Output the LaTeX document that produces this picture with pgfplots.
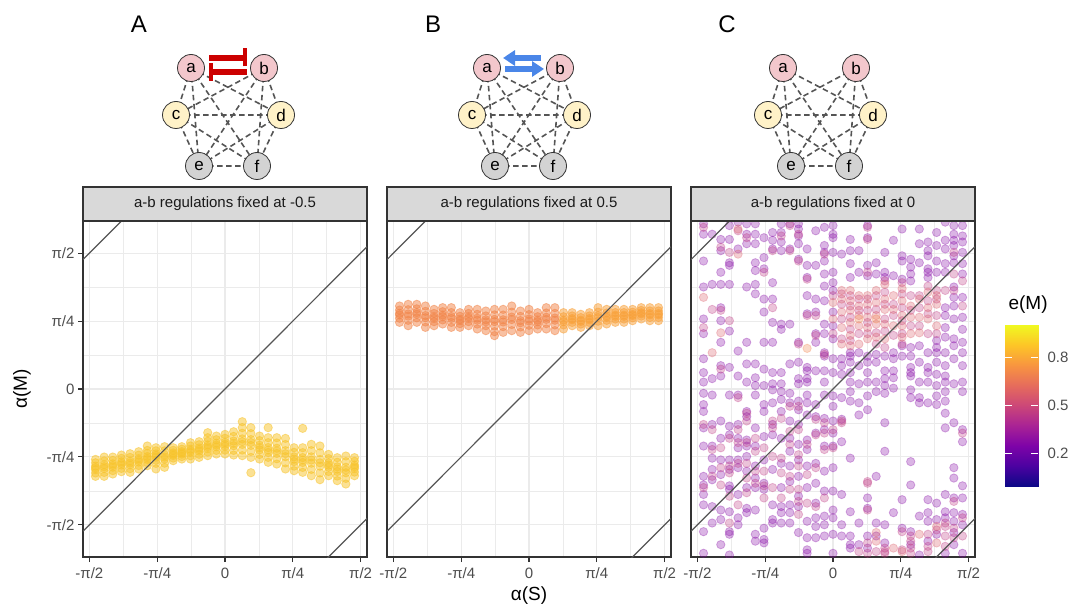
\documentclass[border=0pt]{standalone}
\usepackage{fontspec}
\setmainfont{Liberation Sans}
\usepackage{pgfplots}
\pgfplotsset{compat=1.18}
\usetikzlibrary{arrows.meta}
\definecolor{gridc}{HTML}{EBEBEB}
\definecolor{axc}{HTML}{333333}
\definecolor{tickc}{HTML}{4D4D4D}
\definecolor{stripc}{HTML}{D9D9D9}
\definecolor{stript}{HTML}{1A1A1A}
\definecolor{linec}{HTML}{555555}
\definecolor{cA}{RGB}{247,195,42}
\definecolor{cBl}{RGB}{241,132,72}
\definecolor{cBr}{RGB}{248,160,56}
\definecolor{cCp}{RGB}{133,8,165}
\definecolor{cCm}{RGB}{190,56,130}
\definecolor{cCk}{RGB}{219,92,104}
\definecolor{cCo}{RGB}{240,131,75}
\definecolor{nodeab}{RGB}{243,199,204}
\definecolor{nodecd}{RGB}{255,242,200}
\definecolor{nodeef}{RGB}{211,211,211}
\definecolor{edgec}{HTML}{555555}
\definecolor{redc}{RGB}{204,0,0}
\definecolor{bluec}{RGB}{74,134,232}
\pgfplotsset{colormap={plasma}{rgb255=(13,8,135) rgb255=(76,2,161) rgb255=(126,3,168) rgb255=(169,35,149) rgb255=(204,71,120) rgb255=(230,108,92) rgb255=(248,149,64) rgb255=(253,197,39) rgb255=(240,249,33)}}
\pgfplotsset{
 panel/.style={scale only axis, width=284pt, height=336pt, anchor=south west,
   xmin=-1.645,xmax=1.645,ymin=-1.943,ymax=1.943,
   xtick={-1.5708,-0.7854,0,0.7854,1.5708},
   xticklabels={-π/2,-π/4,0,π/4,π/2},
   ytick={-1.5708,-0.7854,0,0.7854,1.5708},
   minor xtick={-1.1781,-0.3927,0.3927,1.1781},
   minor ytick={-1.1781,-0.3927,0.3927,1.1781},
   grid=both,
   major grid style={draw=gridc, line width=1.1pt},
   minor grid style={draw=gridc, line width=0.55pt},
   axis line style={draw=axc, line width=1.1pt},
   major tick style={draw=axc, line width=1.1pt},
   major tick length=5pt, minor tick length=0pt,
   tick align=outside, tick pos=left,
   ticklabel style={font=\fontsize{15}{18}\selectfont, text=tickc},
   xticklabel style={yshift=-2pt},
   clip marker paths=true,
 },
 pts/.style={only marks, mark=*, mark size=4.2pt, color=#1,
   mark options={fill opacity=0.30, draw opacity=0.30, line width=0.8pt}},
 ptsd/.style={only marks, mark=*, mark size=4.2pt, color=#1,
   mark options={fill opacity=0.5, draw opacity=0.5, line width=0.8pt}},
 abl/.style={color=linec, line width=1.2pt},
}
\newcommand{\net}[1]{%
\begin{scope}[xshift=#1pt]
 \draw[edgec, line width=1.6pt, dash pattern=on 5.5pt off 3.5pt]
   (191,538)--(176,491) (191,538)--(281,491) (191,538)--(199,440) (191,538)--(257,440)
   (264,538)--(176,491) (264,538)--(281,491) (264,538)--(199,440) (264,538)--(257,440)
   (176,491)--(281,491) (176,491)--(199,440) (176,491)--(257,440)
   (281,491)--(199,440) (281,491)--(257,440) (199,440)--(257,440);
 \tikzset{nd/.style={circle, draw=axc, line width=0.8pt, minimum size=27pt, inner sep=0pt, font=\fontsize{17}{20}\selectfont}}
 \node[nd, fill=nodeab] at (191,538) {a};
 \node[nd, fill=nodeab] at (264,538) {b};
 \node[nd, fill=nodecd] at (176,491) {c};
 \node[nd, fill=nodecd] at (281,491) {d};
 \node[nd, fill=nodeef] at (199,440) {e};
 \node[nd, fill=nodeef] at (257,440) {f};
\end{scope}}
\begin{document}
\begin{tikzpicture}[x=1pt,y=1pt]
\useasboundingbox (0,0) rectangle (1073,606);
%% ---------------- Panel A
\begin{axis}[panel, at={(83pt,49pt)},
  yticklabels={-π/2,-π/4,0,π/4,π/2}]
\addplot[ptsd=cA] coordinates {
(-1.5,-0.814)(-1.5,-0.853)(-1.5,-0.892)(-1.5,-0.912)(-1.5,-0.932)(-1.5,-0.971)(-1.5,-1.010)
(-1.4,-0.787)(-1.4,-0.832)(-1.4,-0.876)(-1.4,-0.899)(-1.4,-0.921)(-1.4,-0.965)(-1.4,-1.010)
(-1.3,-0.787)(-1.3,-0.826)(-1.3,-0.865)(-1.3,-0.885)(-1.3,-0.905)(-1.3,-0.944)(-1.3,-0.983)
(-1.2,-0.764)(-1.2,-0.802)(-1.2,-0.841)(-1.2,-0.860)(-1.2,-0.879)(-1.2,-0.918)(-1.2,-0.956)
(-1.1,-0.748)(-1.1,-0.791)(-1.1,-0.834)(-1.1,-0.856)(-1.1,-0.878)(-1.1,-0.921)(-1.1,-0.964)
(-1.0,-0.725)(-1.0,-0.765)(-1.0,-0.805)(-1.0,-0.825)(-1.0,-0.845)(-1.0,-0.885)(-1.0,-0.925)
(-0.9,-0.710)(-0.9,-0.745)(-0.9,-0.781)(-0.9,-0.799)(-0.9,-0.816)(-0.9,-0.852)(-0.9,-0.887)(-0.9,-0.659)
(-0.8,-0.679)(-0.8,-0.715)(-0.8,-0.751)(-0.8,-0.770)(-0.8,-0.788)(-0.8,-0.824)(-0.8,-0.860)(-0.8,-0.925)
(-0.7,-0.667)(-0.7,-0.715)(-0.7,-0.763)(-0.7,-0.787)(-0.7,-0.810)(-0.7,-0.858)(-0.7,-0.906)
(-0.6,-0.679)(-0.6,-0.709)(-0.6,-0.739)(-0.6,-0.754)(-0.6,-0.769)(-0.6,-0.799)(-0.6,-0.829)
(-0.5,-0.667)(-0.5,-0.696)(-0.5,-0.724)(-0.5,-0.739)(-0.5,-0.753)(-0.5,-0.781)(-0.5,-0.810)
(-0.4,-0.621)(-0.4,-0.659)(-0.4,-0.697)(-0.4,-0.716)(-0.4,-0.734)(-0.4,-0.772)(-0.4,-0.810)
(-0.3,-0.609)(-0.3,-0.645)(-0.3,-0.682)(-0.3,-0.700)(-0.3,-0.718)(-0.3,-0.755)(-0.3,-0.791)
(-0.2,-0.563)(-0.2,-0.605)(-0.2,-0.646)(-0.2,-0.667)(-0.2,-0.688)(-0.2,-0.729)(-0.2,-0.771)(-0.2,-0.505)
(-0.1,-0.544)(-0.1,-0.586)(-0.1,-0.627)(-0.1,-0.648)(-0.1,-0.669)(-0.1,-0.710)(-0.1,-0.752)
(0,-0.525)(0,-0.570)(0,-0.616)(0,-0.639)(0,-0.661)(0,-0.707)(0,-0.752)
(0.1,-0.494)(0.1,-0.548)(0.1,-0.602)(0.1,-0.629)(0.1,-0.656)(0.1,-0.710)(0.1,-0.764)
(0.2,-0.447)(0.2,-0.512)(0.2,-0.577)(0.2,-0.609)(0.2,-0.641)(0.2,-0.706)(0.2,-0.771)(0.2,-0.378)
(0.3,-0.447)(0.3,-0.516)(0.3,-0.585)(0.3,-0.619)(0.3,-0.653)(0.3,-0.722)(0.3,-0.791)(0.3,-0.968)
(0.4,-0.544)(0.4,-0.597)(0.4,-0.650)(0.4,-0.677)(0.4,-0.704)(0.4,-0.757)(0.4,-0.810)
(0.5,-0.563)(0.5,-0.620)(0.5,-0.677)(0.5,-0.706)(0.5,-0.734)(0.5,-0.791)(0.5,-0.848)(0.5,-0.447)
(0.6,-0.563)(0.6,-0.624)(0.6,-0.685)(0.6,-0.716)(0.6,-0.746)(0.6,-0.807)(0.6,-0.868)
(0.7,-0.571)(0.7,-0.642)(0.7,-0.713)(0.7,-0.748)(0.7,-0.783)(0.7,-0.854)(0.7,-0.925)
(0.8,-0.679)(0.8,-0.732)(0.8,-0.785)(0.8,-0.812)(0.8,-0.839)(0.8,-0.892)(0.8,-0.945)
(0.9,-0.679)(0.9,-0.736)(0.9,-0.793)(0.9,-0.822)(0.9,-0.850)(0.9,-0.907)(0.9,-0.964)(0.9,-0.455)
(1.0,-0.640)(1.0,-0.713)(1.0,-0.785)(1.0,-0.822)(1.0,-0.858)(1.0,-0.930)(1.0,-1.003)
(1.1,-0.659)(1.1,-0.737)(1.1,-0.815)(1.1,-0.854)(1.1,-0.893)(1.1,-0.971)(1.1,-1.049)
(1.2,-0.756)(1.2,-0.805)(1.2,-0.855)(1.2,-0.880)(1.2,-0.904)(1.2,-0.954)(1.2,-1.003)
(1.3,-0.794)(1.3,-0.847)(1.3,-0.900)(1.3,-0.927)(1.3,-0.954)(1.3,-1.007)(1.3,-1.060)
(1.4,-0.775)(1.4,-0.840)(1.4,-0.905)(1.4,-0.937)(1.4,-0.969)(1.4,-1.034)(1.4,-1.099)
(1.5,-0.794)(1.5,-0.836)(1.5,-0.878)(1.5,-0.899)(1.5,-0.919)(1.5,-0.961)(1.5,-1.003)
};
\addplot[abl] coordinates {(-1.645,-1.645)(1.645,1.645)};
\addplot[abl] coordinates {(-1.645,1.4966)(-0.5,2.6416)};
\addplot[abl] coordinates {(0.5,-2.6416)(1.645,-1.4966)};
\end{axis}
%% ---------------- Panel B
\begin{axis}[panel, at={(387pt,49pt)}, yticklabels={}, ytick style={draw=none}]
\addplot[ptsd=cBl] coordinates {
(-1.5,0.960)(-1.5,0.913)(-1.5,0.875)(-1.5,0.856)(-1.5,0.818)(-1.5,0.771)
(-1.4,0.979)(-1.4,0.917)(-1.4,0.868)(-1.4,0.843)(-1.4,0.794)(-1.4,0.732)
(-1.3,0.979)(-1.3,0.927)(-1.3,0.885)(-1.3,0.865)(-1.3,0.823)(-1.3,0.771)
(-1.2,0.960)(-1.2,0.898)(-1.2,0.849)(-1.2,0.824)(-1.2,0.775)(-1.2,0.713)
(-1.1,0.921)(-1.1,0.874)(-1.1,0.836)(-1.1,0.817)(-1.1,0.779)(-1.1,0.732)
(-1.0,0.941)(-1.0,0.894)(-1.0,0.856)(-1.0,0.837)(-1.0,0.799)(-1.0,0.752)
(-0.9,0.941)(-0.9,0.884)(-0.9,0.838)(-0.9,0.816)(-0.9,0.770)(-0.9,0.713)
(-0.8,0.883)(-0.8,0.841)(-0.8,0.807)(-0.8,0.790)(-0.8,0.756)(-0.8,0.713)
(-0.7,0.921)(-0.7,0.874)(-0.7,0.836)(-0.7,0.817)(-0.7,0.779)(-0.7,0.732)
(-0.6,0.921)(-0.6,0.864)(-0.6,0.819)(-0.6,0.796)(-0.6,0.751)(-0.6,0.694)
(-0.5,0.902)(-0.5,0.845)(-0.5,0.800)(-0.5,0.777)(-0.5,0.732)(-0.5,0.675)
(-0.4,0.921)(-0.4,0.857)(-0.4,0.805)(-0.4,0.779)(-0.4,0.728)(-0.4,0.663)(-0.4,0.617)
(-0.3,0.921)(-0.3,0.855)(-0.3,0.801)(-0.3,0.775)(-0.3,0.721)(-0.3,0.655)
(-0.2,0.960)(-0.2,0.889)(-0.2,0.832)(-0.2,0.803)(-0.2,0.746)(-0.2,0.675)
(-0.1,0.902)(-0.1,0.840)(-0.1,0.791)(-0.1,0.766)(-0.1,0.717)(-0.1,0.655)
(0,0.921)(0,0.860)(0,0.810)(0,0.786)(0,0.737)(0,0.675)
(0.1,0.883)(0.1,0.836)(0.1,0.798)(0.1,0.779)(0.1,0.741)(0.1,0.694)
(0.2,0.941)(0.2,0.879)(0.2,0.830)(0.2,0.805)(0.2,0.756)(0.2,0.694)
(0.3,0.941)(0.3,0.875)(0.3,0.821)(0.3,0.795)(0.3,0.741)(0.3,0.675)
};
\addplot[ptsd=cBr] coordinates {
(0.4,0.883)(0.4,0.836)(0.4,0.798)(0.4,0.779)(0.4,0.741)(0.4,0.694)
(0.5,0.883)(0.5,0.845)(0.5,0.815)(0.5,0.800)(0.5,0.770)(0.5,0.732)
(0.6,0.864)(0.6,0.826)(0.6,0.796)(0.6,0.781)(0.6,0.751)(0.6,0.713)
(0.7,0.883)(0.7,0.845)(0.7,0.815)(0.7,0.800)(0.7,0.770)(0.7,0.732)
(0.8,0.941)(0.8,0.889)(0.8,0.847)(0.8,0.826)(0.8,0.784)(0.8,0.732)
(0.9,0.921)(0.9,0.879)(0.9,0.845)(0.9,0.828)(0.9,0.794)(0.9,0.752)
(1.0,0.921)(1.0,0.884)(1.0,0.854)(1.0,0.839)(1.0,0.809)(1.0,0.771)
(1.1,0.921)(1.1,0.884)(1.1,0.854)(1.1,0.839)(1.1,0.809)(1.1,0.771)
(1.2,0.921)(1.2,0.888)(1.2,0.862)(1.2,0.849)(1.2,0.823)(1.2,0.790)
(1.3,0.941)(1.3,0.908)(1.3,0.882)(1.3,0.869)(1.3,0.843)(1.3,0.810)
(1.4,0.941)(1.4,0.903)(1.4,0.873)(1.4,0.858)(1.4,0.828)(1.4,0.790)
(1.5,0.941)(1.5,0.903)(1.5,0.873)(1.5,0.858)(1.5,0.828)(1.5,0.790)
};
\addplot[abl] coordinates {(-1.645,-1.645)(1.645,1.645)};
\addplot[abl] coordinates {(-1.645,1.4966)(-0.5,2.6416)};
\addplot[abl] coordinates {(0.5,-2.6416)(1.645,-1.4966)};
\end{axis}
%% ---------------- Panel C
\begin{axis}[panel, at={(691pt,49pt)}, yticklabels={}, ytick style={draw=none}]
\addplot[pts=cCp] coordinates {
(-1.5,1.91)(-1.5,1.79)(-1.5,1.48)(-1.5,1.18)(-1.5,0.81)(-1.5,0.64)(-1.5,0.35)(-1.5,0.19)(-1.5,0.08)
(-1.4,1.79)(-1.4,1.21)(-1.4,0.12)
(-1.3,1.73)(-1.3,1.60)(-1.3,1.35)(-1.3,1.21)(-1.3,0.94)(-1.3,0.79)(-1.3,0.54)(-1.3,0.27)(-1.3,0.15)
(-1.2,1.89)(-1.2,1.73)(-1.2,1.46)(-1.2,1.43)(-1.2,1.21)(-1.2,0.67)(-1.2,0.25)
(-1.1,1.93)(-1.1,1.62)(-1.1,0.44)(-1.1,0.15)
(-1.0,1.91)(-1.0,1.79)(-1.0,1.68)(-1.0,1.18)(-1.0,0.54)(-1.0,0.29)(-1.0,0.08)
(-0.9,1.91)(-0.9,1.79)(-0.9,1.68)(-0.9,1.46)(-0.9,1.37)(-0.9,1.21)(-0.9,1.10)(-0.9,0.29)(-0.9,0.13)(-0.9,0.04)
(-0.8,1.75)(-0.8,1.52)(-0.8,1.39)(-0.8,1.04)(-0.8,0.89)(-0.8,0.54)(-0.8,0.23)(-0.8,0.04)
(-0.7,1.81)(-0.7,1.72)(-0.7,1.62)(-0.7,1.23)(-0.7,1.04)(-0.7,0.77)(-0.7,0.54)(-0.7,0.19)(-0.7,0.06)
(-0.6,1.91)(-0.6,1.81)(-0.6,1.70)(-0.6,1.60)(-0.6,0.75)(-0.6,0.69)(-0.6,0.19)(-0.6,0.06)
(-0.5,1.91)(-0.5,1.62)(-0.5,0.75)(-0.5,0.29)
(-0.4,1.91)(-0.4,1.85)(-0.4,1.77)(-0.4,1.68)(-0.4,1.50)(-0.4,0.54)(-0.4,0.31)(-0.4,0.12)(-0.4,0.06)
(-0.3,1.62)(-0.3,1.43)(-0.3,1.29)(-0.3,1.08)(-0.3,0.87)(-0.3,0.25)(-0.3,0.21)(-0.3,0.12)(-0.3,0.08)
(-0.2,1.83)(-0.2,1.43)(-0.2,1.04)(-0.2,0.89)(-0.2,0.64)(-0.2,0.54)(-0.2,0.21)
(-0.1,1.87)(-0.1,1.66)(-0.1,1.58)(-0.1,1.48)(-0.1,1.33)(-0.1,1.19)(-0.1,1.02)(-0.1,0.75)(-0.1,0.64)(-0.1,0.42)(-0.1,0.38)(-0.1,0.21)(-0.1,0.08)
(0,1.89)(0,1.79)(0,1.75)(0,1.58)(0,1.35)(0,1.23)(0,1.14)(0,0.89)(0,0.73)(0,0.58)(0,0.35)(0,0.19)
(0.1,1.56)(0.1,0.35)(0.1,0.27)(0.1,0.17)
(0.2,1.73)(0.2,1.60)(0.2,1.45)(0.2,1.29)(0.2,0.42)(0.2,0.38)(0.2,0.31)(0.2,0.19)(0.2,0.08)
(0.3,1.60)(0.3,1.35)(0.3,0.42)(0.3,0.27)(0.3,0.06)
(0.4,1.89)(0.4,1.75)(0.4,1.43)(0.4,1.31)(0.4,0.38)(0.4,0.31)(0.4,0.19)(0.4,0.08)
(0.5,1.46)(0.5,1.33)(0.5,0.40)(0.5,0.31)(0.5,0.08)
(0.6,1.58)(0.6,1.35)(0.6,1.29)(0.6,0.38)(0.6,0.21)(0.6,0.12)(0.6,0.04)
(0.7,1.72)(0.7,1.31)(0.7,0.42)(0.7,0.35)(0.7,0.21)(0.7,0.13)
(0.8,1.85)(0.8,1.54)(0.8,1.48)(0.8,1.27)(0.8,0.50)(0.8,0.38)
(0.9,1.50)(0.9,1.41)(0.9,1.33)(0.9,1.25)(0.9,0.48)(0.9,0.38)(0.9,0.25)(0.9,0.19)(0.9,0.15)
(1.0,1.85)(1.0,1.68)(1.0,1.46)(1.0,0.50)(1.0,0.31)(1.0,0.08)
(1.1,1.70)(1.1,1.60)(1.1,1.54)(1.1,1.39)(1.1,1.35)(1.1,1.29)(1.1,0.42)(1.1,0.25)(1.1,0.19)(1.1,0.08)
(1.2,1.81)(1.2,1.66)(1.2,1.48)(1.2,1.35)(1.2,0.56)(1.2,0.48)(1.2,0.42)(1.2,0.31)(1.2,0.17)(1.2,0.04)
(1.3,1.93)(1.3,1.72)(1.3,1.62)(1.3,1.45)(1.3,1.35)(1.3,0.94)(1.3,0.85)(1.3,0.71)(1.3,0.60)(1.3,0.42)(1.3,0.27)(1.3,0.15)(1.3,0.08)
(1.4,1.89)(1.4,1.79)(1.4,1.72)(1.4,1.66)(1.4,1.54)(1.4,1.46)(1.4,1.18)(1.4,1.06)(1.4,0.96)(1.4,0.81)(1.4,0.58)(1.4,0.50)(1.4,0.35)(1.4,0.06)
(1.5,1.89)(1.5,1.77)(1.5,1.70)(1.5,1.58)(1.5,1.45)(1.5,1.33)(1.5,1.06)(1.5,0.83)(1.5,0.69)(1.5,0.54)(1.5,0.42)(1.5,0.27)(1.5,0.08)
(-1.5,-0.05)(-1.5,-0.18)(-1.5,-0.26)(-1.5,-0.45)(-1.5,-0.66)(-1.5,-1.01)(-1.5,-1.11)(-1.5,-1.22)(-1.5,-1.34)(-1.5,-1.65)(-1.5,-1.90)
(-1.4,-0.07)(-1.4,-0.41)(-1.4,-0.66)(-1.4,-0.80)(-1.4,-0.93)(-1.4,-1.05)(-1.4,-1.36)(-1.4,-1.55)
(-1.3,-0.37)(-1.3,-0.57)(-1.3,-0.82)(-1.3,-0.99)(-1.3,-1.40)(-1.3,-1.51)(-1.3,-1.80)
(-1.2,-0.07)(-1.2,-0.43)(-1.2,-0.53)(-1.2,-0.82)(-1.2,-0.93)(-1.2,-1.12)(-1.2,-1.16)(-1.2,-1.42)(-1.2,-1.65)(-1.2,-1.68)(-1.2,-1.92)
(-1.1,-0.07)(-1.1,-0.41)(-1.1,-0.57)(-1.1,-0.68)(-1.1,-0.82)(-1.1,-0.91)(-1.1,-1.22)(-1.1,-1.49)(-1.1,-1.57)
(-1.0,-0.26)(-1.0,-0.32)(-1.0,-0.59)(-1.0,-0.66)(-1.0,-0.78)(-1.0,-0.95)(-1.0,-1.14)(-1.0,-1.38)(-1.0,-1.43)
(-0.9,-0.07)(-0.9,-0.45)(-0.9,-0.66)(-0.9,-0.89)(-0.9,-1.03)(-0.9,-1.14)(-0.9,-1.40)(-0.9,-1.68)(-0.9,-1.76)
(-0.8,-0.18)(-0.8,-0.26)(-0.8,-0.55)(-0.8,-0.82)(-0.8,-1.09)(-0.8,-1.16)(-0.8,-1.61)(-0.8,-1.74)(-0.8,-1.78)
(-0.7,-0.01)(-0.7,-0.16)(-0.7,-0.41)(-0.7,-0.53)(-0.7,-0.93)(-0.7,-1.34)(-0.7,-1.51)(-0.7,-1.55)
(-0.6,-0.03)(-0.6,-0.12)(-0.6,-0.26)(-0.6,-0.57)(-0.6,-0.86)(-0.6,-1.14)(-0.6,-1.36)(-0.6,-1.43)(-0.6,-1.55)
(-0.5,-0.05)(-0.5,-0.16)(-0.5,-0.37)(-0.5,-0.57)(-0.5,-0.72)(-0.5,-0.89)(-0.5,-1.07)(-0.5,-1.34)(-0.5,-1.43)(-0.5,-1.55)
(-0.4,-0.14)(-0.4,-0.24)(-0.4,-0.41)(-0.4,-0.64)(-0.4,-0.82)(-0.4,-1.01)(-0.4,-1.24)(-0.4,-1.36)(-0.4,-1.66)
(-0.3,-0.07)(-0.3,-0.16)(-0.3,-0.30)(-0.3,-0.59)(-0.3,-0.70)(-0.3,-0.89)(-0.3,-1.14)(-0.3,-1.53)(-0.3,-1.72)(-0.3,-1.86)(-0.3,-1.90)
(-0.2,-0.18)(-0.2,-0.32)(-0.2,-0.51)(-0.2,-0.86)(-0.2,-1.09)(-0.2,-1.32)(-0.2,-1.49)(-0.2,-1.59)(-0.2,-1.72)
(-0.1,-0.07)(-0.1,-0.34)(-0.1,-0.47)(-0.1,-0.66)(-0.1,-0.95)(-0.1,-1.18)(-0.1,-1.47)(-0.1,-1.57)(-0.1,-1.70)
(0,-0.08)(0,-0.20)(0,-0.37)(0,-0.51)(0,-0.66)(0,-0.91)(0,-1.18)(0,-1.40)(0,-1.49)(0,-1.68)(0,-1.90)
(0.1,-0.10)(0.1,-0.35)(0.1,-0.61)(0.1,-1.22)(0.1,-1.57)(0.1,-1.70)
(0.2,-0.03)(0.2,-0.14)(0.2,-0.80)(0.2,-1.42)(0.2,-1.70)(0.2,-1.80)(0.2,-1.84)
(0.3,-0.16)(0.3,-0.30)(0.3,-1.55)(0.3,-1.80)
(0.4,-0.08)(0.4,-0.24)(0.4,-1.26)(0.4,-1.38)(0.4,-1.70)(0.4,-1.84)
(0.5,-0.03)(0.5,-1.01)(0.5,-1.55)(0.5,-1.70)
(0.6,-0.05)(0.6,-0.39)(0.6,-0.72)(0.6,-1.57)(0.6,-1.78)
(0.7,0.01)(0.7,-1.43)
(0.8,-1.28)(0.8,-1.61)
(0.9,-0.01)(0.9,-0.10)(0.9,-0.84)(0.9,-1.11)(0.9,-1.65)(0.9,-1.80)
(1.0,-0.10)(1.0,-0.16)(1.0,-1.47)(1.0,-1.92)
(1.1,-0.16)(1.1,-1.28)(1.1,-1.43)(1.1,-1.53)(1.1,-1.76)
(1.2,-0.08)(1.2,-0.18)(1.2,-1.32)(1.2,-1.51)(1.2,-1.68)
(1.3,-0.03)(1.3,-0.14)(1.3,-0.28)(1.3,-0.45)(1.3,-1.22)(1.3,-1.42)(1.3,-1.49)(1.3,-1.90)
(1.4,-0.39)(1.4,-0.91)(1.4,-1.03)(1.4,-1.26)(1.4,-1.43)(1.4,-1.53)(1.4,-1.66)(1.4,-1.80)
(1.5,-0.03)(1.5,-0.47)(1.5,-0.61)(1.5,-1.12)(1.5,-1.26)(1.5,-1.45)(1.5,-1.57)(1.5,-1.90)
};
\addplot[pts=cCm] coordinates {
(-1.5,1.87)(-1.5,0.71)(-1.4,0.92)(-1.3,1.64)(-1.3,0.91)(-1.3,0.23)(-1.2,1.58)(-1.2,0.79)
(-1.1,1.83)(-1.0,1.75)(-0.8,1.35)(-0.7,1.60)(-0.7,0.94)(-0.6,1.77)(-0.5,1.89)(-0.5,1.60)
(-0.4,1.79)(-0.4,1.48)(-0.4,0.52)(-0.3,1.27)(-0.3,0.85)(-0.2,0.85)(-0.2,0.62)(-0.1,1.56)(-0.1,0.40)
(0,1.08)(0,0.64)(0.1,1.10)(0.1,0.98)(0.1,0.81)(0.1,0.58)
(0.2,1.08)(0.2,0.96)(0.2,0.83)(0.2,0.69)(0.2,0.56)(0.3,1.04)(0.3,0.91)(0.3,0.64)
(0.4,1.87)(0.4,1.73)(0.4,1.35)(0.4,1.04)(0.4,0.91)(0.4,0.77)(0.4,0.64)
(0.5,1.08)(0.5,0.92)(0.5,0.65)(0.5,0.52)
(0.6,1.25)(0.6,1.12)(0.6,0.98)(0.6,0.81)(0.6,0.67)(0.6,0.48)
(0.7,0.98)(0.7,0.85)(0.7,0.62)
(0.8,1.23)(0.8,1.10)(0.8,0.94)(0.8,0.79)(0.8,0.64)(0.8,0.52)
(0.9,1.08)(0.9,0.91)(0.9,0.73)(1.0,1.08)(1.0,0.94)(1.0,0.73)
(1.1,1.19)(1.1,1.02)(1.1,0.87)(1.1,0.64)(1.2,1.14)(1.2,1.04)(1.2,0.85)(1.2,0.64)
(1.3,1.14)(1.4,1.58)(1.4,1.33)(1.4,1.14)(1.5,1.25)(1.5,0.96)
(-1.5,-0.41)(-1.5,-1.14)(-1.4,-0.47)(-1.4,-0.70)(-1.4,-1.01)(-1.3,-0.68)(-1.3,-0.91)(-1.3,-1.11)
(-1.2,-0.57)(-1.2,-0.89)(-1.2,-0.97)(-1.2,-1.24)(-1.2,-1.55)
(-1.1,-0.10)(-1.1,-0.47)(-1.1,-0.62)(-1.1,-0.86)(-1.1,-1.34)
(-1.0,-0.28)(-1.0,-0.37)(-1.0,-0.62)(-1.0,-0.86)(-1.0,-1.03)(-1.0,-1.20)
(-0.9,-0.57)(-0.9,-0.72)(-0.9,-0.95)(-0.9,-1.09)
(-0.8,-0.68)(-0.8,-0.95)(-0.8,-1.12)(-0.8,-1.26)
(-0.7,-0.37)(-0.7,-0.45)(-0.7,-0.78)(-0.7,-1.14)
(-0.6,-0.34)(-0.6,-0.80)(-0.6,-0.97)(-0.6,-1.26)
(-0.5,-0.20)(-0.5,-0.49)(-0.5,-0.64)(-0.5,-1.01)(-0.5,-1.16)
(-0.4,-0.20)(-0.4,-0.47)(-0.4,-0.76)(-0.4,-0.89)(-0.4,-1.16)(-0.4,-1.30)(-0.4,-1.45)
(-0.3,-0.64)(-0.3,-0.99)(-0.3,-1.32)(-0.2,-0.35)(-0.2,-0.53)(-0.2,-0.91)(-0.2,-1.36)
(-0.1,-0.39)(-0.1,-0.51)(-0.1,-0.70)(-0.1,-1.26)(0,-0.47)(0,-0.68)(0.1,-0.37)(0.1,-0.39)
(0.3,-1.88)(0.4,-1.07)(0.4,-1.09)(0.4,-1.40)(0.4,-1.78)(0.4,-1.90)(0.5,-1.88)
(0.6,-1.84)(0.6,-1.88)(0.6,-1.90)(0.8,-1.65)(0.8,-1.86)
(0.9,-1.70)(0.9,-1.76)(0.9,-1.84)(0.9,-1.90)(1.1,-1.68)(1.1,-1.82)(1.1,-1.88)(1.2,-1.63)
(1.3,-1.55)(1.3,-1.59)(1.3,-1.70)(1.3,-1.82)(1.4,-1.30)(1.4,-1.61)(1.4,-1.72)(1.5,-0.51)(1.5,-1.49)(1.5,-1.70)
};
\addplot[pts=cCk] coordinates {
(-1.5,1.06)(-1.4,0.42)(-1.3,0.65)(-1.1,1.85)(-1.1,1.56)(0,1.00)(0,0.81)
(0.1,1.14)(0.1,1.04)(0.1,0.89)(0.1,0.71)(0.1,0.52)
(0.2,1.14)(0.2,1.02)(0.2,0.91)(0.2,0.77)(0.2,0.62)(0.2,0.50)
(0.3,1.08)(0.3,0.96)(0.3,0.85)(0.3,0.73)(0.3,0.52)
(0.4,1.08)(0.4,0.98)(0.4,0.83)(0.4,0.71)(0.4,0.58)
(0.5,1.14)(0.5,1.00)(0.5,0.85)(0.5,0.75)(0.5,0.60)
(0.6,1.21)(0.6,1.04)(0.6,0.92)(0.6,0.75)(0.6,0.58)
(0.7,1.08)(0.7,0.92)(0.7,0.73)
(0.8,1.16)(0.8,1.02)(0.8,0.85)(0.8,0.73)(0.8,0.60)
(0.9,0.96)(0.9,0.83)(0.9,0.64)(1.0,1.04)(1.0,0.83)(1.0,0.65)
(1.1,1.12)(1.1,0.94)(1.1,0.81)(1.2,1.08)(1.2,0.98)(1.2,0.73)
(0.5,-1.66)(0.5,-1.76)(0.7,-1.84)(0.8,-1.88)(1.0,-1.68)(1.2,-1.59)(1.2,-1.78)
};
\addplot[pts=cCo] coordinates {(-0.3,0.47)(0.3,0.81)(0.5,0.81)};
\addplot[abl] coordinates {(-1.645,-1.645)(1.645,1.645)};
\addplot[abl] coordinates {(-1.645,1.4966)(-0.5,2.6416)};
\addplot[abl] coordinates {(0.5,-2.6416)(1.645,-1.4966)};
\end{axis}
%% ---------------- colour bar
\begin{axis}[at={(1005pt,120pt)}, anchor=south west, scale only axis, width=33pt, height=161pt,
  xmin=0, xmax=1, ymin=0, ymax=1, view={0}{90},
  axis line style={draw=none}, xtick=\empty,
  ytick={0.2,0.5,0.8}, yticklabels={0.2,0.5,0.8},
  ytick pos=both, yticklabel pos=right, tick align=inside,
  major tick length=6.6pt, major tick style={draw=white, line width=0.9pt},
  yticklabel style={font=\fontsize{15}{18}\selectfont, text=tickc, xshift=6pt},
  colormap name=plasma, point meta min=0, point meta max=1, axis on top]
\addplot[surf, shader=interp, point meta=y, mesh/cols=2] coordinates {(0,0) (1,0) (0,1) (1,1)};
\end{axis}
\node[anchor=base west, font=\fontsize{19}{22}\selectfont] at (1005,297) {e(M)};
%% ---------------- strips
\foreach \xl/\lab in {83/{a-b regulations fixed at -0.5}, 387/{a-b regulations fixed at 0.5}, 691/{a-b regulations fixed at 0}}{
  \draw[fill=stripc, draw=axc, line width=1.1pt] (\xl,385) rectangle (\xl+284,419);
  \node[text=stript, font=\fontsize{15}{18}\selectfont] at (\xl+142,402) {\lab};
}
%% ---------------- axis titles
\node[rotate=90, font=\fontsize{19}{22}\selectfont] at (22,217) {α(M)};
\node[font=\fontsize{19}{22}\selectfont] at (529,10) {α(S)};
%% ---------------- tags
\node[font=\fontsize{24}{28}\selectfont] at (139,582) {A};
\node[font=\fontsize{24}{28}\selectfont] at (433,582) {B};
\node[font=\fontsize{24}{28}\selectfont] at (727,582) {C};
%% ---------------- networks
\net{0}
\net{296}
\net{592}
\draw[redc, line width=6.5pt] (209,548) -- (246,548);
\draw[redc, line width=4.5pt] (245,539.5) -- (245,557.5);
\draw[redc, line width=6.5pt] (210,534) -- (247,534);
\draw[redc, line width=4.5pt] (211,525) -- (211,543);
\draw[bluec, line width=6.5pt, -{Triangle[length=12pt,width=15pt]}] (541,548) -- (503,548);
\draw[bluec, line width=6.5pt, -{Triangle[length=12pt,width=15pt]}] (505,537) -- (544,537);
\end{tikzpicture}
\end{document}
